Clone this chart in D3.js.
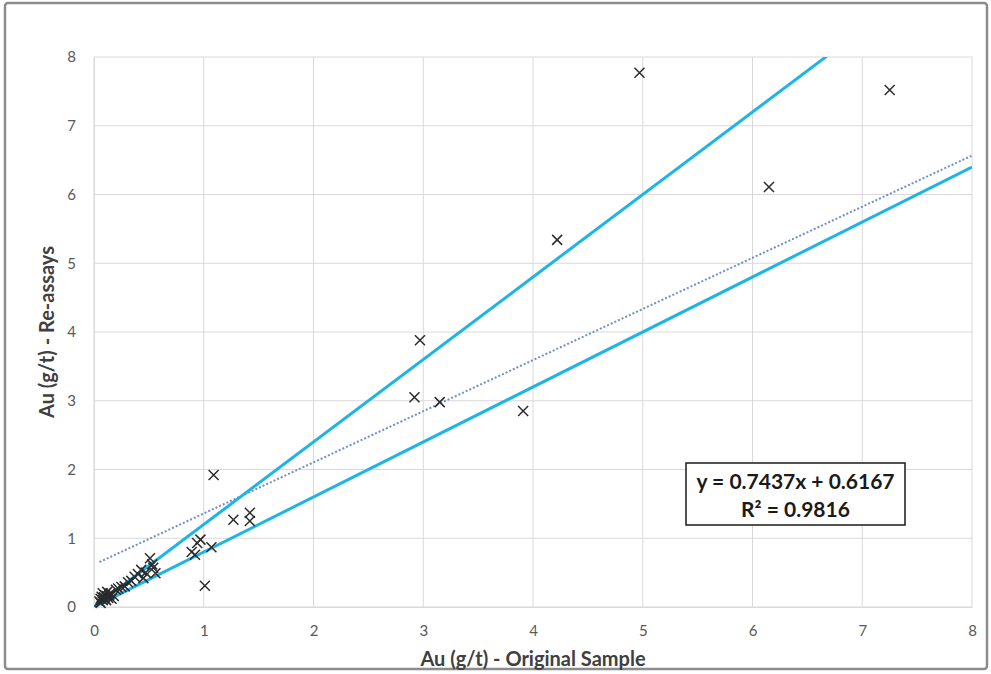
<!DOCTYPE html>
<html>
<head>
<meta charset="utf-8">
<script src="https://cdn.jsdelivr.net/npm/d3@7"></script>
<style>
html,body{margin:0;padding:0;background:#fff;}
svg{display:block;font-family:Lato,"Open Sans",sans-serif;}
</style>
</head>
<body>
<svg id="chart" width="991" height="674"></svg>
<script>
// Data
const originalAu = [4.97,7.25,6.15,4.22,2.97,2.92,3.15,3.91,1.09,1.27,1.42,1.42,1.01,
  0.97,0.94,0.89,0.92,1.07,
  0.51,0.54,0.56,0.43,0.37,0.45,0.31,0.25,0.20,0.15,0.10,0.28,0.34,0.40,0.47,0.53,
  0.05,0.06,0.07,0.08,0.09,0.10,0.11,0.12,0.13,0.14,0.08,0.06,0.12,0.18,0.22,0.16];
const reassayAu = [7.77,7.52,6.11,5.34,3.88,3.05,2.98,2.85,1.92,1.27,1.37,1.25,0.31,
  0.98,0.93,0.80,0.76,0.87,
  0.71,0.57,0.49,0.54,0.44,0.42,0.36,0.29,0.25,0.20,0.17,0.30,0.38,0.48,0.50,0.62,
  0.08,0.12,0.15,0.10,0.14,0.12,0.10,0.16,0.13,0.18,0.20,0.06,0.22,0.16,0.27,0.12];
const xTicks = [0,1,2,3,4,5,6,7,8];
const yTicks = [0,1,2,3,4,5,6,7,8];
const upperSlope = 1.2, lowerSlope = 0.8;
const trendSlope = 0.7437, trendIntercept = 0.6167;
const equationLines = ["y = 0.7437x + 0.6167", "R² = 0.9816"];
const xTitle = "Au (g/t) - Original Sample";
const yTitle = "Au (g/t) - Re-assays";

(function(){
const svg = d3.select("#chart");
const pL = 94, pR = 972, pT = 57, pB = 607;
const x = d3.scaleLinear().domain([0,8]).range([pL,pR]);
const y = d3.scaleLinear().domain([0,8]).range([pB,pT]);

// outer frame
svg.append("rect").attr("x",5).attr("y",3).attr("width",982).attr("height",666)
  .attr("rx",3).attr("fill","#fff").attr("stroke","#8c8c8c").attr("stroke-width",2.5);

// gridlines
const g = svg.append("g");
g.selectAll(".vg").data(xTicks).join("line")
  .attr("x1",d=>x(d)).attr("x2",d=>x(d)).attr("y1",pT).attr("y2",pB)
  .attr("stroke","#d9d9d9").attr("stroke-width",1);
g.selectAll(".hg").data(yTicks).join("line")
  .attr("y1",d=>y(d)).attr("y2",d=>y(d)).attr("x1",pL).attr("x2",pR)
  .attr("stroke","#d9d9d9").attr("stroke-width",1);

// axes via d3
const xAxis = svg.append("g").attr("transform",`translate(0,${pB})`)
  .call(d3.axisBottom(x).tickValues(xTicks).tickSize(0).tickPadding(18).tickFormat(d3.format("d")));
xAxis.select(".domain").attr("stroke","#d9d9d9");
xAxis.selectAll("text").attr("font-size",15).attr("fill","#595959").attr("font-family","Lato,sans-serif");
const yAxis = svg.append("g").attr("transform",`translate(${pL},0)`)
  .call(d3.axisLeft(y).tickValues(yTicks).tickSize(0).tickPadding(18).tickFormat(d3.format("d")));
yAxis.select(".domain").attr("stroke","#d9d9d9");
yAxis.selectAll("text").attr("font-size",15).attr("fill","#595959").attr("font-family","Lato,sans-serif");

// clip
svg.append("clipPath").attr("id","clip").append("rect")
  .attr("x",pL).attr("y",pT).attr("width",pR-pL).attr("height",pB-pT);
const plot = svg.append("g").attr("clip-path","url(#clip)");

// trendline dotted
plot.append("line")
  .attr("x1",x(0.05)).attr("y1",y(trendIntercept+trendSlope*0.05))
  .attr("x2",x(8)).attr("y2",y(trendIntercept+trendSlope*8))
  .attr("stroke","#6f8fc9").attr("stroke-width",2).attr("stroke-dasharray","2,2");

// +/-20% lines
[upperSlope, lowerSlope].forEach(s=>{
  plot.append("line")
    .attr("x1",x(0)).attr("y1",y(0))
    .attr("x2",x(8)).attr("y2",y(8*s))
    .attr("stroke","#1fb4e6").attr("stroke-width",3);
});

// markers
const pts = originalAu.map((v,i)=>[v,reassayAu[i]]);
const m = 5;
const mk = svg.append("g");
pts.forEach(([a,b])=>{
  const cx=x(a), cy=y(b);
  mk.append("path")
    .attr("d",`M${cx-m},${cy-m}L${cx+m},${cy+m}M${cx-m},${cy+m}L${cx+m},${cy-m}`)
    .attr("stroke","#2b2b2b").attr("stroke-width",1.5).attr("fill","none");
});

// equation box
const bx=686, by=463, bw=219, bh=62;
svg.append("rect").attr("x",bx).attr("y",by).attr("width",bw).attr("height",bh)
  .attr("fill","#fff").attr("stroke","#1a1a1a").attr("stroke-width",1.5);
const eq = svg.append("text").attr("text-anchor","middle").attr("font-weight","bold")
  .attr("font-size",21).attr("fill","#1a1a1a");
eq.append("tspan").attr("x",bx+bw/2).attr("y",by+26).text(equationLines[0]);
eq.append("tspan").attr("x",bx+bw/2).attr("y",by+54).text(equationLines[1]);

// axis titles
svg.append("text").attr("x",x(4)).attr("y",666).attr("text-anchor","middle")
  .attr("font-size",20).attr("font-weight","bold").attr("fill","#404040").text(xTitle);
svg.append("text").attr("transform",`translate(54,${y(4)}) rotate(-90)`).attr("text-anchor","middle")
  .attr("font-size",20).attr("font-weight","bold").attr("fill","#404040").text(yTitle);
})();
</script>
</body>
</html>
